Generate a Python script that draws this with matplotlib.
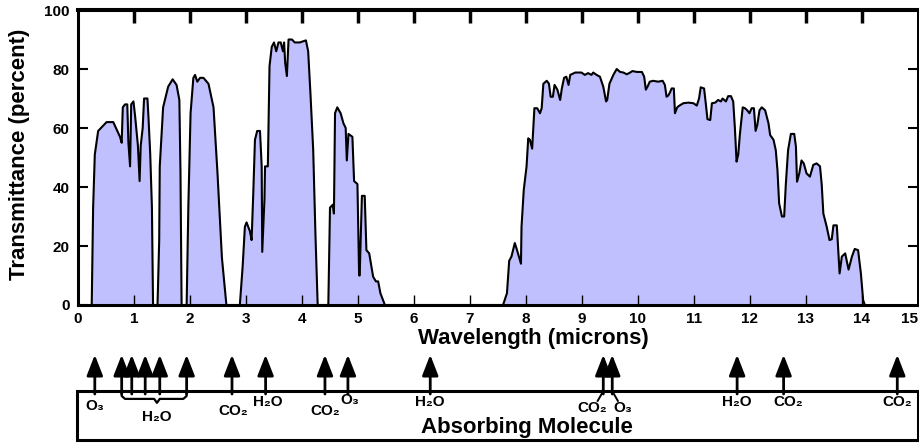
import matplotlib.pyplot as plt
from matplotlib.patches import Rectangle

# transmittance curve (microns, percent)
wavelength = [
    # band 1
    0.245, 0.27, 0.30, 0.36, 0.51, 0.63, 0.75, 0.78, 0.80, 0.84, 0.88, 0.90, 0.93, 0.95,
    0.99, 1.02, 1.07, 1.10, 1.12, 1.155, 1.18, 1.24, 1.26, 1.29, 1.32, 1.34,
    # band 2
    1.42, 1.45, 1.46, 1.52, 1.61, 1.69, 1.76, 1.81, 1.83, 1.85,
    # band 3
    1.94, 1.97, 2.01, 2.06, 2.09, 2.13, 2.18, 2.24, 2.33, 2.42, 2.49, 2.57, 2.65,
    # band 4
    2.89, 2.94, 2.98, 3.01, 3.07, 3.10, 3.13, 3.16, 3.20, 3.25, 3.28, 3.29, 3.33, 3.34,
    3.39, 3.42, 3.46, 3.50, 3.54, 3.58, 3.62, 3.66, 3.68, 3.70, 3.73, 3.76, 3.82, 3.87,
    3.96, 4.07, 4.11, 4.15, 4.20, 4.24, 4.28,
    # band 5
    4.47, 4.50, 4.55, 4.57, 4.59, 4.63, 4.69, 4.74, 4.78, 4.80, 4.83, 4.90, 4.93, 4.99,
    5.02, 5.03, 5.07, 5.12, 5.15, 5.20, 5.27, 5.32, 5.36, 5.40, 5.48,
    # band 6
    7.59, 7.66, 7.70, 7.74, 7.80, 7.84, 7.91, 7.92, 7.96, 8.01, 8.04, 8.07, 8.11, 8.15,
    8.20, 8.25, 8.28, 8.31, 8.37, 8.41, 8.44, 8.48, 8.51, 8.56, 8.61, 8.64, 8.68, 8.72,
    8.76, 8.79, 8.88, 8.99, 9.05, 9.11, 9.17, 9.20, 9.26, 9.32, 9.38, 9.43, 9.45, 9.49,
    9.56, 9.62, 9.68, 9.74, 9.80, 9.86, 9.90, 9.98, 10.07, 10.11, 10.14, 10.17, 10.21,
    10.27, 10.36, 10.44, 10.48, 10.51, 10.54, 10.57, 10.60, 10.64, 10.66, 10.70, 10.74,
    10.81, 10.90, 10.99, 11.05, 11.09, 11.12, 11.18, 11.21, 11.24, 11.29, 11.32, 11.38,
    11.43, 11.48, 11.51, 11.57, 11.61, 11.66, 11.70, 11.73, 11.76, 11.79, 11.82, 11.87,
    11.91, 11.95, 11.99, 12.03, 12.07, 12.10, 12.13, 12.17, 12.21, 12.27, 12.33, 12.36,
    12.42, 12.46, 12.49, 12.52, 12.57, 12.61, 12.64, 12.68, 12.73, 12.79, 12.82, 12.84,
    12.88, 12.92, 12.96, 13.01, 13.07, 13.13, 13.19, 13.25, 13.28, 13.31, 13.37, 13.42,
    13.46, 13.49, 13.55, 13.60, 13.64, 13.70, 13.76, 13.82, 13.87, 13.93, 13.98, 14.02,
    14.05,
]
transmittance = [
    # band 1
    0, 33, 51, 59, 62, 62, 57, 55, 67, 68, 68, 55, 47, 68,
    69, 64, 54, 42, 54, 60, 70, 70, 63, 51, 33, 0,
    # band 2
    0, 22, 47, 67, 74, 76.5, 74.6, 69.5, 45, 0,
    # band 3
    0, 33, 65, 77, 78, 75.7, 77, 77, 75, 67, 45, 16, 0,
    # band 4
    0, 13, 26.5, 28, 25, 22, 38, 56, 59, 59, 47, 18, 36, 47,
    47, 81, 87.5, 89, 86, 89, 89, 86, 89, 82, 77.6, 90, 90, 89,
    89, 89.7, 86, 72, 52.5, 24, 0,
    # band 5
    0, 33, 34, 31, 65, 67, 65, 61.6, 60, 49, 58, 57, 42, 41,
    10, 10, 37, 37, 18.6, 17.5, 9.6, 8, 8, 4, 0,
    # band 6
    0, 4, 15, 16.4, 21, 18.6, 14, 26.5, 39, 47, 56.5, 56, 53, 66.7,
    66.7, 65, 66.7, 75, 76, 75, 70.6, 70.6, 74.6, 73, 69.5, 73.4, 77, 77.4,
    74.6, 78, 78.8, 78.8, 78, 78.6, 78, 78.8, 78, 77.4, 74, 69, 69.5, 75,
    78, 80, 79, 78.8, 78.2, 78.8, 79.3, 79, 79, 77.4, 73, 74, 75.7,
    76, 75.7, 76, 74.6, 70.6, 71, 72, 73.4, 73.4, 65, 67, 67.6,
    68.4, 68.6, 68.4, 67.6, 70, 73.8, 73.4, 68.4, 63, 62.7, 68.4, 68.6,
    69.5, 69, 70, 69, 70.8, 70.8, 69, 60, 48.6, 51, 58, 67,
    66.7, 66, 65, 66.7, 66.7, 59, 61, 66, 67, 66, 61.6, 57.6,
    56, 52.5, 45.8, 34.5, 30, 30, 41, 52.5, 58, 58, 53.7, 41.8,
    44.6, 49, 48, 44.6, 43.5, 47.5, 48, 47, 41, 31, 26.5, 22,
    22.3, 27, 27, 10.7, 16.4, 17.5, 12, 16.4, 19, 18.6, 10.7, 1.7,
    0,
]

x_ticks = list(range(0, 16))
y_ticks = [0, 20, 40, 60, 80, 100]

# absorption features (microns) and their molecule labels
arrow_wl = [0.30, 0.78, 0.96, 1.20, 1.46, 1.94, 2.75, 3.35, 4.41, 4.82, 6.29,
            9.38, 9.54, 11.77, 12.60, 14.63]
mol_labels = ['O₃', 'H₂O', 'CO₂', 'H₂O', 'CO₂', 'O₃', 'H₂O', 'CO₂', 'O₃', 'H₂O', 'CO₂', 'CO₂']
label_x = [0.30, 1.41, 2.77, 3.39, 4.41, 4.86, 6.29, 9.18, 9.73, 11.77, 12.68, 14.63]
label_y = [0.38, 0.27, 0.33, 0.42, 0.33, 0.44, 0.42, 0.36, 0.36, 0.42, 0.42, 0.42]

plt.rcParams['font.family'] = ['Liberation Sans', 'DejaVu Sans']
plt.rcParams['font.weight'] = 'bold'

W, H = 920, 443
fig = plt.figure(figsize=(W / 100, H / 100), dpi=100)

ax = fig.add_axes([78 / W, 138 / H, 840 / W, 295 / H])
ax.fill_between(wavelength, transmittance, 0, color='#c0c0ff', lw=0)
ax.plot(wavelength, transmittance, color='black', lw=1.5)
ax.set_xlim(0, 15)
ax.set_ylim(0, 100)
ax.set_xticks(x_ticks)
ax.set_xticklabels([str(t) for t in x_ticks])
ax.get_xticklabels()[-1].set_horizontalalignment('right')
ax.set_yticks(y_ticks)
ax.set_yticklabels([str(t) for t in y_ticks])
ax.tick_params(axis='x', direction='in', length=7, width=1, pad=5, labelsize=11)
ax.tick_params(axis='y', direction='in', length=7, width=1.5, pad=6, labelsize=11)
for s, w in [('left', 2.2), ('bottom', 2.2), ('top', 2.9), ('right', 1.4)]:
    ax.spines[s].set_linewidth(w)

top = ax.secondary_xaxis('top')
top.set_xticks(x_ticks[1:15])
top.tick_params(direction='in', length=9, width=2.5, labeltop=False)
top.spines['top'].set_linewidth(2.9)
right = ax.secondary_yaxis('right')
right.set_yticks(y_ticks[1:5])
right.tick_params(direction='in', length=7, width=1.5, labelright=False)
right.spines['right'].set_linewidth(1.4)

ax.set_xlabel('Wavelength (microns)', fontsize=16, fontweight='bold')
ax.xaxis.set_label_coords((533 - 78) / 840, -0.078)
ax.set_ylabel('Transmittance (percent)', fontsize=16, fontweight='bold')
ax.yaxis.set_label_coords(-0.057, 0.51)

# lower panel: absorbing molecules
ax2 = fig.add_axes([78 / W, 0, 840 / W, 98 / H])
ax2.set_xlim(0, 15)
ax2.set_ylim(0, 1)
ax2.axis('off')
ax2.add_patch(Rectangle((-0.02, 0.03), 15.02, 0.50, fill=False, lw=2.2,
                        edgecolor='black', clip_on=False))
for x in arrow_wl:
    ax2.annotate('', xy=(x, 0.90), xytext=(x, 0.50),
                 arrowprops=dict(arrowstyle='-|>,head_length=0.9,head_width=0.35',
                                 color='black', lw=2, shrinkA=0, shrinkB=0,
                                 mutation_scale=14),
                 annotation_clip=False)

# brace joining the near-infrared water bands
ax2.plot([0.78, 0.78, 0.84, 1.36, 1.41, 1.46, 1.88, 1.94, 1.94],
         [0.53, 0.48, 0.45, 0.45, 0.41, 0.45, 0.45, 0.48, 0.53],
         color='black', lw=1.6, clip_on=False)
# split lines to the 9.6 micron labels
ax2.plot([9.38, 9.28], [0.53, 0.43], color='black', lw=1.4)
ax2.plot([9.54, 9.64], [0.53, 0.43], color='black', lw=1.4)

for t, x, y in zip(mol_labels, label_x, label_y):
    ax2.text(x, y, t, ha='center', va='center', fontsize=11, fontweight='bold')
ax2.text(8.02, 0.16, 'Absorbing Molecule', ha='center', va='center',
         fontsize=16, fontweight='bold')

fig.savefig('out.png', dpi=100)
